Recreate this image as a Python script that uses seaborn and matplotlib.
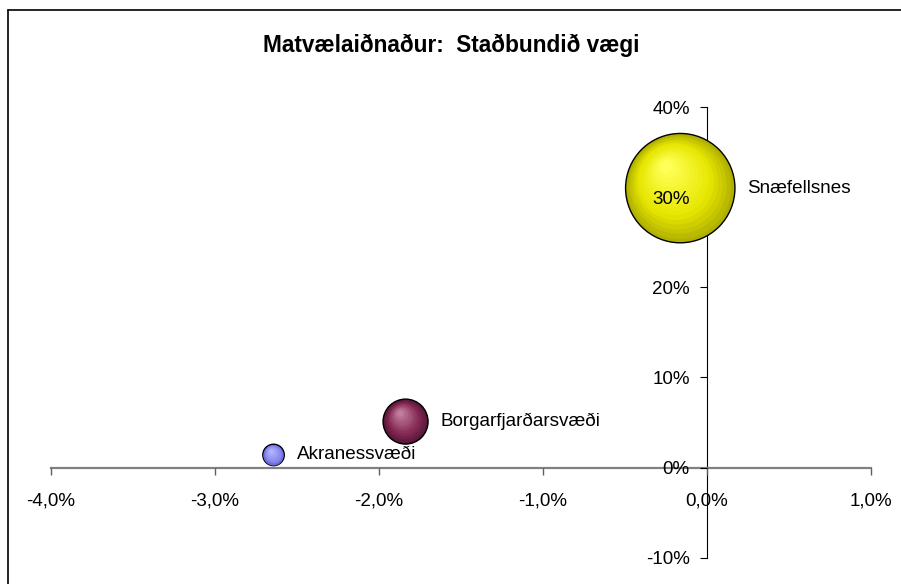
import numpy as np
import pandas as pd
import matplotlib
matplotlib.use("Agg")
import matplotlib.pyplot as plt
import seaborn as sns
from matplotlib.transforms import offset_copy
from matplotlib.lines import Line2D
from matplotlib.ticker import FuncFormatter, FixedLocator

# ---- data ----
regions = ["Akranessvæði", "Borgarfjarðarsvæði", "Snæfellsnes"]
x_change = [-2.64, -1.835, -0.16]      # % (x axis)
y_share = [1.4, 5.1, 31.0]             # % (y axis)
bubble_weight = [1.0, 4.4, 26.0]       # relative bubble area
x_ticks = [-4, -3, -2, -1, 0, 1]
y_ticks = [-10, 0, 10, 20, 30, 40]
title = "Matvælaiðnaður:  Staðbundið vægi"

# ---- style ----
edge_cols = {"Akranessvæði": "#6565d0", "Borgarfjarðarsvæði": "#561636", "Snæfellsnes": "#b0b000"}
mid_cols = {"Akranessvæði": "#8c8cf2", "Borgarfjarðarsvæði": "#862a56", "Snæfellsnes": "#e6e600"}
center_cols = {"Akranessvæði": "#b4b4ff", "Borgarfjarðarsvæði": "#c27c9c", "Snæfellsnes": "#ffff55"}
max_area = 6200.0

sns.set_theme(style="white")
plt.rcParams["font.family"] = ["Liberation Sans", "DejaVu Sans"]
plt.rcParams["text.color"] = "black"
plt.rcParams["xtick.color"] = "black"
plt.rcParams["ytick.color"] = "black"

df = pd.DataFrame({"region": regions, "x": x_change, "y": y_share, "w": bubble_weight})
df["s"] = df["w"] / df["w"].max() * max_area
size_map = dict(zip(df["region"], df["s"]))

fig = plt.figure(figsize=(9.01, 5.84), dpi=100)
ax = fig.add_axes([50.5 / 901, 1 - 557.7 / 584, 820 / 901, (557.7 - 107) / 584])

sns.scatterplot(data=df, x="x", y="y", hue="region", palette=edge_cols,
                size="region", sizes=size_map, legend=False,
                edgecolor="black", linewidth=1.0, ax=ax, zorder=3)


def grad(name, t):
    stops = [0.0, 0.35, 1.0]
    cols = np.array([matplotlib.colors.to_rgb(c) for c in
                     (edge_cols[name], mid_cols[name], center_cols[name])])
    return tuple(np.interp(t, stops, cols[:, i]) for i in range(3))


N = 16
for _, row in df.iterrows():
    r = np.sqrt(row["s"]) / 2.0
    for k in range(1, N):
        t = k / (N - 1)
        f = 1 - 0.88 * t
        tr = offset_copy(ax.transData, fig=fig, x=-(1 - f) * r * 0.30,
                         y=(1 - f) * r * 0.45, units="points")
        ax.scatter([row["x"]], [row["y"]], s=row["s"] * f * f,
                   color=grad(row["region"], t),
                   linewidths=0, transform=tr, zorder=3 + k * 0.01)
    ax.annotate(row["region"], (row["x"], row["y"]), xytext=(r + 9, 0),
                textcoords="offset points", ha="left", va="center",
                fontsize=13.6, color="black", zorder=6)

ax.set_xlim(-4, 1)
ax.set_ylim(-10, 40)
ax.xaxis.set_major_locator(FixedLocator(x_ticks))
ax.yaxis.set_major_locator(FixedLocator(y_ticks))
ax.xaxis.set_major_formatter(FuncFormatter(lambda v, p: f"{v:.1f}%".replace(".", ",")))
ax.yaxis.set_major_formatter(FuncFormatter(lambda v, p: f"{v:.0f}%"))
ax.set_xlabel("")
ax.set_ylabel("")

for side in ["top", "right"]:
    ax.spines[side].set_visible(False)
ax.spines["left"].set_position(("data", 0))
ax.spines["bottom"].set_position(("data", 0))
ax.spines["left"].set_color("black")
ax.spines["left"].set_linewidth(0.8)
ax.spines["bottom"].set_color("#808080")
ax.spines["bottom"].set_linewidth(1.6)
ax.spines["left"].set_zorder(2)
ax.spines["bottom"].set_zorder(2)

ax.tick_params(axis="x", direction="out", length=5, width=1, color="#606060",
               labelcolor="black", pad=13, labelsize=13.5, bottom=True)
ax.tick_params(axis="y", direction="out", length=5, width=0.8, color="black",
               labelcolor="black", pad=7, labelsize=13.5, left=True)
ax.xaxis.set_zorder(5)
ax.yaxis.set_zorder(5)
ax.set_facecolor("none")
ax.grid(False)

# hide the tick hidden behind the big bubble
for tk, val in zip(ax.yaxis.get_major_ticks(), y_ticks):
    if val == 30:
        tk.tick1line.set_visible(False)

fig.text(451 / 901, 1 - 45 / 584, title, ha="center", va="center",
         fontsize=16.3, fontweight="bold", color="black")

# chart frame (left and top edges)
fig.add_artist(Line2D([8 / 901, 8 / 901], [0, 1 - 10 / 584], transform=fig.transFigure,
                      color="black", lw=1.2))
fig.add_artist(Line2D([8 / 901, 1], [1 - 10 / 584, 1 - 10 / 584], transform=fig.transFigure,
                      color="black", lw=1.2))

fig.savefig("out.png", dpi=100)
